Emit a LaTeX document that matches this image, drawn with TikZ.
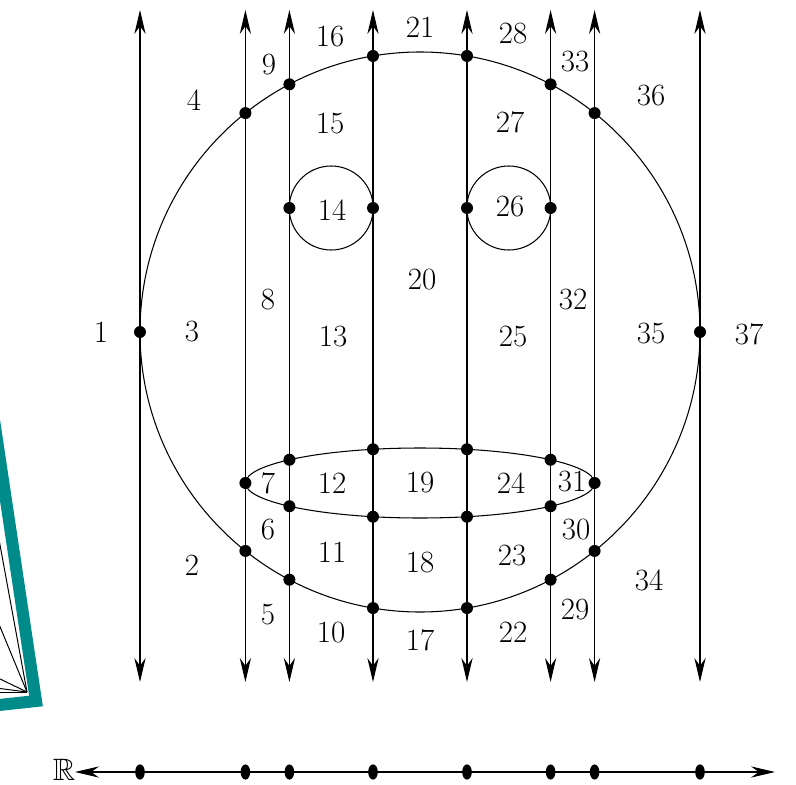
\documentclass[tikz,border=0pt]{standalone}
\usepackage{fontspec}
\usepackage{amssymb}
\usetikzlibrary{arrows.meta,shapes.geometric}
\definecolor{bandteal}{RGB}{0,139,139}
\begin{document}
\begin{tikzpicture}[line width=0.75pt, >={Stealth[length=6mm,width=2.8mm]},
	lab/.style={font=\fontsize{22}{26}\selectfont},
	dot/.style={circle, fill, inner sep=0pt, minimum size=3mm},
	rdot/.style={ellipse, fill, inner sep=0pt, minimum width=2.4mm, minimum height=3.8mm}]
\useasboundingbox (-10.5,-11.3) rectangle (9.4,8.3);
\begin{scope}
\clip (-10.5,-11.3) rectangle (9.4,8.3);
\draw[bandteal, line width=3mm, line join=miter] (-10.65,-2.2) -- (-9.6,-9.225) -- (-10.75,-9.35);
\coordinate (apex) at (-9.825,-9);
\foreach \y [count=\i] in {-4.775,-7.125,-8.625,-8.9,-9}
	\draw[line width=0.7pt] (-10.6,\y) coordinate (f\i) -- (apex);
\end{scope}
\draw (0,0) circle (7);
\draw (-2.22,3.1) circle (1.05);
\draw (2.22,3.1) circle (1.05);
\draw (0,-3.775) ellipse (4.365 and 0.875);
\foreach \x [count=\i] in {-7,-4.365,-3.265,-1.175,1.175,3.265,4.365,7}
{
	\draw[<->] (\x,8.05) coordinate (top\i) -- (\x,-8.75) coordinate (bot\i);
}
\draw[<->] (-8.625,-11) coordinate (rl) -- (8.875,-11) coordinate (rr);
\foreach \x [count=\i] in {-7,-4.365,-3.265,-1.175,1.175,3.265,4.365,7}
	\node[rdot] (p\i) at (\x,-11) {};
\node[lab] (reals) at (-8.9,-10.95) {$\mathbb{R}$};
\foreach \x / \y [count=\i] in {-7/0, 7/0,
	-4.365/5.473, 4.365/5.473, -4.365/-5.473, 4.365/-5.473,
	-3.265/6.192, 3.265/6.192, -3.265/-6.192, 3.265/-6.192,
	-1.175/6.901, 1.175/6.901, -1.175/-6.901, 1.175/-6.901,
	-3.265/3.1, -1.175/3.1, 1.175/3.1, 3.265/3.1,
	-4.365/-3.775, 4.365/-3.775,
	-3.265/-3.194, 3.265/-3.194, -3.265/-4.356, 3.265/-4.356,
	-1.175/-2.932, 1.175/-2.932, -1.175/-4.618, 1.175/-4.618}
	\node[dot] (d\i) at (\x,\y) {};
\foreach \n / \x / \y in {1/-7.975/0, 2/-5.7/-5.825, 3/-5.7/0, 4/-5.65/5.8,
	5/-3.8/-7.075, 6/-3.8/-4.95, 7/-3.8/-3.775, 8/-3.8/0.8, 9/-3.775/6.675,
	10/-2.225/-7.525, 11/-2.2/-5.5, 12/-2.2/-3.775, 13/-2.175/-0.125,
	14/-2.2/3.05, 15/-2.25/5.2, 16/-2.25/7.375,
	17/0/-7.7, 18/0/-5.775, 19/0/-3.775, 20/0.05/1.3, 21/0/7.625,
	22/2.325/-7.5, 23/2.3/-5.6, 24/2.275/-3.775, 25/2.325/-0.125,
	26/2.25/3.125, 27/2.25/5.25, 28/2.325/7.45,
	29/3.875/-6.95, 30/3.9/-4.95, 31/3.8/-3.75, 32/3.825/0.8, 33/3.875/6.75,
	34/5.725/-6.2, 35/5.775/-0.05, 36/5.775/5.9, 37/8.225/-0.05}
	\node[lab] (r\n) at (\x,\y) {\n};
\end{tikzpicture}
\end{document}
